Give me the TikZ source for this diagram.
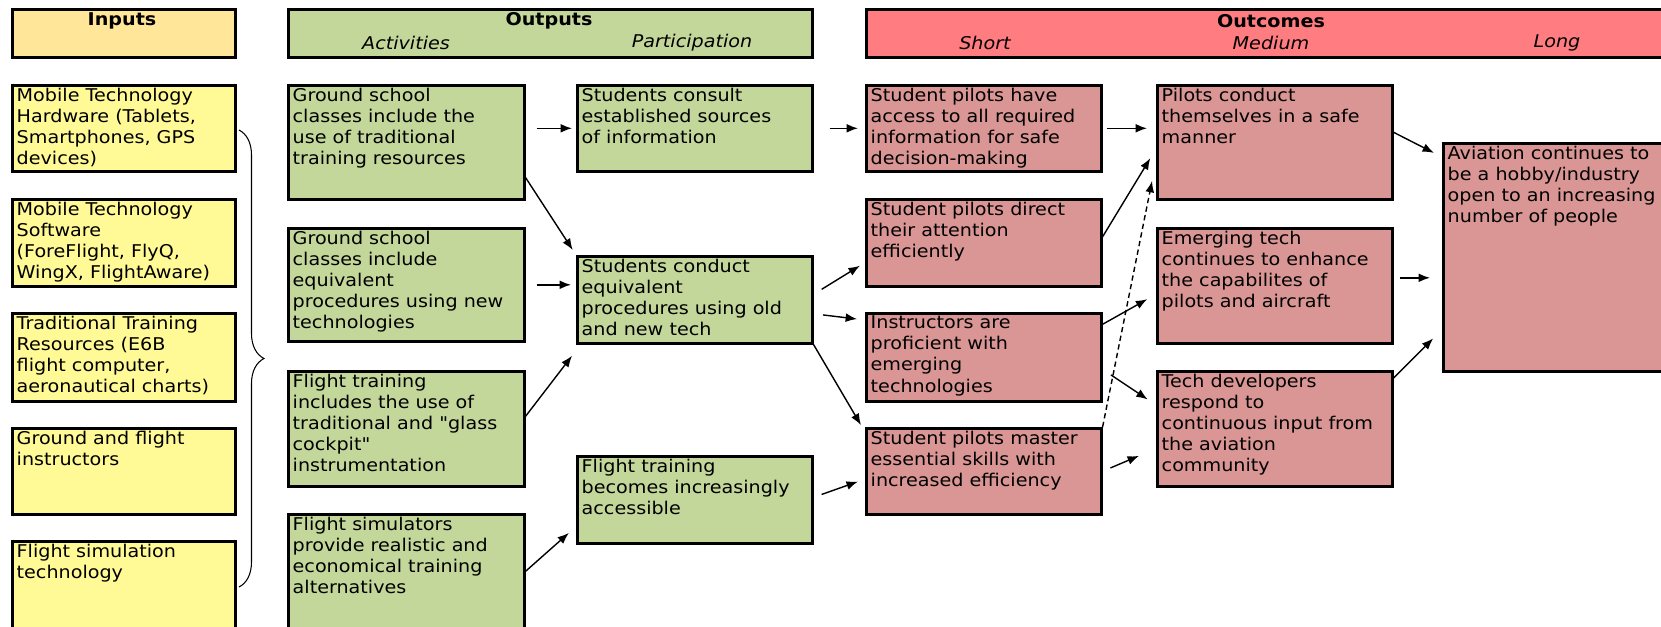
\documentclass[tikz,border=0pt]{standalone}
\usepackage{fontspec}
\setmainfont{DejaVu Sans}[FakeStretch=1.09]
\newfontfamily\plainq{DejaVu Sans}[FakeStretch=1.09]
\usetikzlibrary{arrows.meta,decorations.pathreplacing}

\definecolor{inhead}{RGB}{255,230,153}
\definecolor{inbox}{RGB}{255,250,150}
\definecolor{outgrn}{RGB}{196,215,155}
\definecolor{ochead}{RGB}{255,124,128}
\definecolor{ocbox}{RGB}{217,150,148}

\begin{document}
\begin{tikzpicture}[x=0.02cm, y=-0.02cm, line width=0.8pt, >={Latex[length=6.5pt,width=5pt]}]
	\tikzset{
		box/.style 2 args={draw, line width=1.5pt, anchor=north west, inner xsep=2.5pt, inner ysep=1.5pt,
			execute at begin node={\begin{minipage}[t][#2][t]{#1}\raggedright},
			execute at end node={\end{minipage}}},
		inp/.style={box={4.284cm}{#1}, fill=inbox},
		act/.style={box={4.544cm}{#1}, fill=outgrn},
		part/.style={box={4.524cm}{#1}, fill=outgrn},
		oc/.style={box={4.524cm}{#1}, fill=ocbox},
		lng/.style={box={5.024cm}{#1}, fill=ocbox},
		head/.style={draw, line width=1.5pt, anchor=north west, minimum height=0.96cm, inner sep=0pt},
		title/.style={font=\bfseries},
		sub/.style={font=\itshape}
	}
	\fill[white] (0,0) rectangle (1661,626);
	\useasboundingbox (0,0) rectangle (1661,626);
	\clip (0,0) rectangle (1661,626);
	
	% column heads
	\node[head, fill=inhead, minimum width=4.46cm] (inH) at (11,8) {};
	\node[head, fill=outgrn, minimum width=10.48cm] (outH) at (287,8) {};
	\node[head, fill=ochead, minimum width=16.7cm] (ocH) at (865,8) {};
	\node[title] (inT) at (122,21) {Inputs};
	\node[title] (outT) at (549,21) {Outputs};
	\node[sub] (actT) at (406,43) {Activities};
	\node[sub] (partT) at (692,43) {Participation};
	\node[title] (ocT) at (1271,21) {Outcomes};
	\node[sub] (shortT) at (985,43) {Short};
	\node[sub] (medT) at (1271,43) {Medium};
	\node[sub] (longT) at (1557,43) {Long};
	
	% inputs
	\node[inp=1.614cm] (hw) at (11,84) {Mobile Technology\\Hardware (Tablets,\\Smartphones, GPS\\devices)};
	\node[inp=1.634cm] (sw) at (11,198) {Mobile Technology\\Software\\(ForeFlight, FlyQ,\\WingX, FlightAware)};
	\node[inp=1.654cm] (trad) at (11,312) {Traditional Training\\Resources (E6B\\flight computer,\\aeronautical charts)};
	\node[inp=1.614cm] (instr) at (11,427) {Ground and flight\\instructors};
	\node[inp=1.894cm] (simtech) at (11,540) {Flight simulation\\technology};
	\coordinate (bt) at (239,130);
	\coordinate (bb) at (239,587);
	\draw[line width=0.6pt, decorate, decoration={brace, amplitude=0.5cm}] (bt) -- (bb);
	
	% activities
	\node[act=2.174cm] (gs1) at (287,84) {Ground school\\classes include the\\use of traditional\\training resources};
	\node[act=2.154cm] (gs2) at (287,227) {Ground school\\classes include\\equivalent\\procedures using new\\technologies};
	\node[act=2.194cm] (ft) at (287,370) {Flight training\\includes the use of\\traditional and {\plainq"}glass\\cockpit{\plainq"}\\instrumentation};
	\node[act=2.434cm] (fsim) at (287,513) {Flight simulators\\provide realistic and\\economical training\\alternatives};
	
	% participation
	\node[part=1.614cm] (sc) at (576,84) {Students consult\\established sources\\of information};
	\node[part=1.634cm] (scd) at (576,255) {Students conduct\\equivalent\\procedures using old\\and new tech};
	\node[part=1.634cm] (ftb) at (576,455) {Flight training\\becomes increasingly\\accessible};
	
	% outcomes
	\node[oc=1.614cm] (spa) at (865,84) {Student pilots have\\access to all required\\information for safe\\decision-making};
	\node[oc=1.634cm] (spd) at (865,198) {Student pilots direct\\their attention\\efficiently};
	\node[oc=1.654cm] (ip) at (865,312) {Instructors are\\proficient with\\emerging\\technologies};
	\node[oc=1.614cm] (spm) at (865,427) {Student pilots master\\essential skills with\\increased efficiency};
	\node[oc=2.174cm] (pc) at (1156,84) {Pilots conduct\\themselves in a safe\\manner};
	\node[oc=2.194cm] (et) at (1156,227) {Emerging tech\\continues to enhance\\the capabilites of\\pilots and aircraft};
	\node[oc=2.194cm] (td) at (1156,370) {Tech developers\\respond to\\continuous input from\\the aviation\\community};
	\node[lng=4.454cm] (ac) at (1442,142) {Aviation continues to\\be a hobby/industry\\open to an increasing\\number of people};
	
	\draw[->, shorten <=0.22cm, shorten >=0.08cm] (gs1.east |- sc.west) -- (sc.west);
	\draw[->, shorten >=0.12cm] ([yshift=0.46cm]gs1.south east) -- (scd.north west);
	\draw[->, shorten <=0.22cm, shorten >=0.1cm] (gs2.east) -- (gs2.east -| scd.west);
	\draw[->, shorten >=0.13cm] ([yshift=0.25cm]ft.east) -- ([yshift=-0.12cm]scd.south west);
	\draw[->, shorten >=0.19cm] ([yshift=0.13cm]fsim.east) -- ([yshift=0.36cm]ftb.south west);
	
	\draw[->, shorten <=0.32cm, shorten >=0.14cm] (sc.east) -- (spa.west);
	\draw[->, shorten <=0.19cm, shorten >=0.12cm] ([yshift=0.11cm]scd.east) -- ([yshift=0.5cm]spd.south west);
	\draw[->, shorten <=0.19cm, shorten >=0.16cm] ([yshift=-0.28cm]scd.east) -- ([yshift=-0.16cm]ip.north west);
	\draw[->, shorten >=0.16cm] (scd.south east) -- ([yshift=-0.1cm]spm.north west);
	\draw[->, shorten <=0.17cm, shorten >=0.15cm] ([yshift=0.05cm]ftb.east) -- ([yshift=0.73cm]spm.south west);
	
	\draw[->, shorten <=0.08cm, shorten >=0.18cm] (spa.east) -- (spa.east -| pc.west);
	\draw[->, shorten >=0.22cm] ([yshift=0.12cm]spd.east) -- ([yshift=-0.13cm]pc.west);
	\draw[->, densely dashed, shorten >=0.4cm] (spm.north east) -- ([yshift=-0.38cm]pc.west);
	\draw[->, shorten >=0.2cm] ([yshift=0.66cm]ip.east) -- ([yshift=-0.17cm]et.west);
	\draw[->, shorten <=0.2cm, shorten >=0.2cm] ([yshift=-0.24cm]ip.east) -- ([yshift=-0.7cm]td.north west);
	\draw[->, shorten <=0.17cm, shorten >=0.37cm] (spm.east) -- ([yshift=0.78cm]td.south west);
	
	\draw[->, shorten >=0.18cm] ([yshift=0.2cm]pc.east) -- ([yshift=-0.3cm]ac.north west);
	\draw[->, shorten <=0.12cm, shorten >=0.24cm] ([yshift=0.16cm]et.east) -- ([yshift=0.16cm]et.east -| ac.west);
	\draw[->, shorten >=0.25cm] ([yshift=-0.16cm]td.north east) -- ([yshift=0.86cm]ac.south west);
\end{tikzpicture}
\end{document}
